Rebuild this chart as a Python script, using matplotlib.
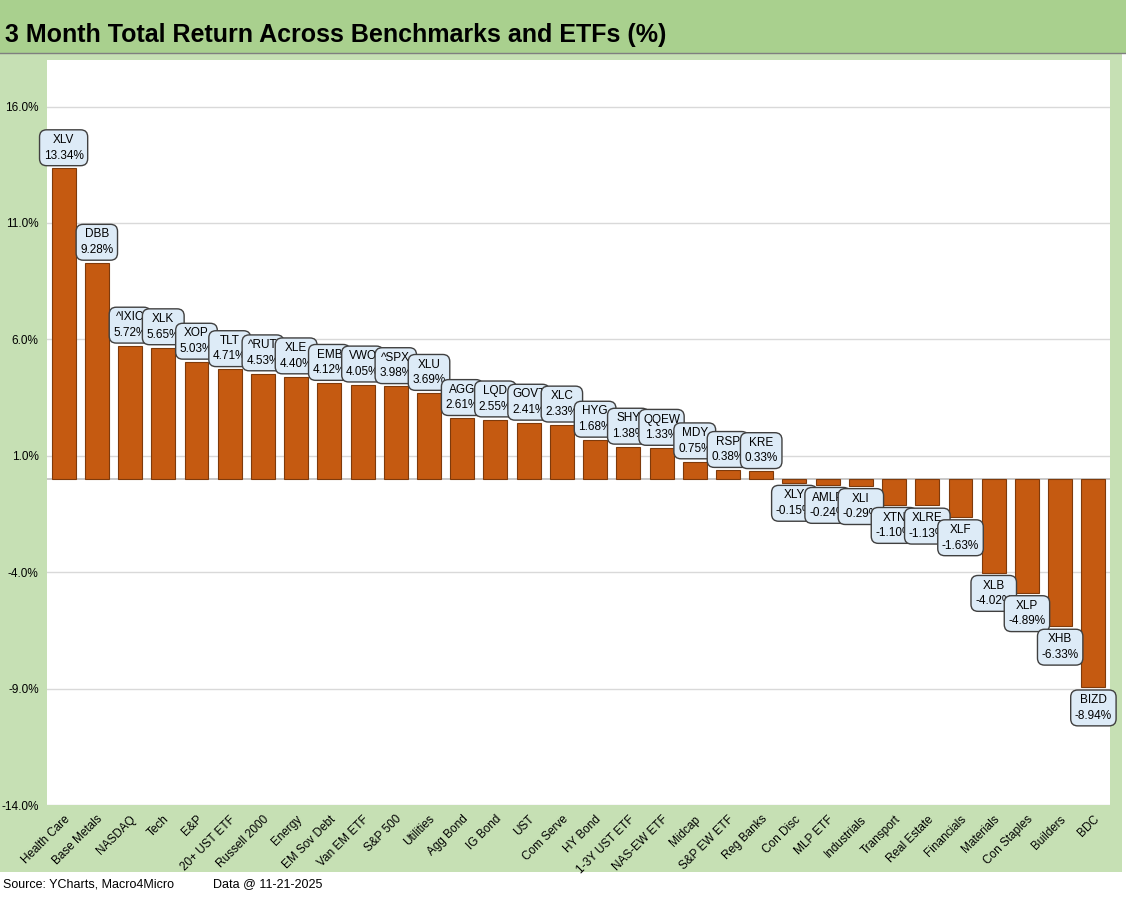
import numpy as np
import matplotlib
matplotlib.use("Agg")
import matplotlib.pyplot as plt
from matplotlib.patches import Rectangle
from matplotlib.ticker import FuncFormatter

plt.rcParams['font.family'] = ['Liberation Sans', 'DejaVu Sans']

# chart data: category, ticker, 3 month total return (%)
categories = ["Health Care", "Base Metals", "NASDAQ", "Tech", "E&P", "20+ UST ETF",
              "Russell 2000", "Energy", "EM Sov Debt", "Van EM ETF", "S&P 500",
              "Utilities", "Agg Bond", "IG Bond", "UST", "Com Serve", "HY Bond",
              "1-3Y UST ETF", "NAS-EW ETF", "Midcap", "S&P EW ETF", "Reg Banks",
              "Con Disc", "MLP ETF", "Industrials", "Transport", "Real Estate",
              "Financials", "Materials", "Con Staples", "Builders", "BDC"]
tickers = ["XLV", "DBB", "^IXIC", "XLK", "XOP", "TLT", "^RUT", "XLE", "EMB", "VWO",
           "^SPX", "XLU", "AGG", "LQD", "GOVT", "XLC", "HYG", "SHY", "QQEW", "MDY",
           "RSP", "KRE", "XLY", "AMLP", "XLI", "XTN", "XLRE", "XLF", "XLB", "XLP",
           "XHB", "BIZD"]
returns = [13.34, 9.28, 5.72, 5.65, 5.03, 4.71, 4.53, 4.40, 4.12, 4.05, 3.98, 3.69,
           2.61, 2.55, 2.41, 2.33, 1.68, 1.38, 1.33, 0.75, 0.38, 0.33, -0.15, -0.24,
           -0.29, -1.10, -1.13, -1.63, -4.02, -4.89, -6.33, -8.94]

W, H = 1126, 897
fig = plt.figure(figsize=(W / 100, H / 100), dpi=100)
fig.patch.set_facecolor("white")

# background bands
fig.patches.append(Rectangle((0, 1 - 872 / H), 1122 / W, (872 - 54) / H,
                             transform=fig.transFigure, facecolor="#c6e0b4",
                             edgecolor="none", zorder=-2))
fig.patches.append(Rectangle((0, 1 - 53 / H), 1, 53 / H, transform=fig.transFigure,
                             facecolor="#a9d08e", edgecolor="none", zorder=-2))
fig.lines.append(plt.Line2D([0, 1], [1 - 53.5 / H, 1 - 53.5 / H],
                            transform=fig.transFigure, color="#7f7f7f", lw=1,
                            zorder=-1))

ax = fig.add_axes([47 / W, 1 - 805 / H, (1110 - 47) / W, (805 - 60) / H])
ax.set_zorder(2)
ax.set_facecolor("white")

x = np.arange(len(categories))
ax.bar(x, returns, width=0.72, color="#c55a11", edgecolor="#7f3a0b", linewidth=0.8,
       zorder=3)
ax.axhline(0, color="#bfbfbf", lw=1.2, zorder=2)

ax.set_xlim(-0.5, len(categories) - 0.5)
ax.set_ylim(-14, 18)
ax.set_yticks(np.arange(-14, 17, 5))
ax.yaxis.set_major_formatter(FuncFormatter(lambda v, p: f"{v:.1f}%"))
ax.grid(axis="y", color="#d9d9d9", lw=1, zorder=1)
ax.set_axisbelow(True)
for s in ax.spines.values():
    s.set_visible(False)
ax.tick_params(axis="both", length=0)
ax.tick_params(axis="y", labelsize=8.5, pad=6)
ax.set_xticks(x)
ax.set_xticklabels(categories, rotation=45, ha="right", rotation_mode="anchor",
                   fontsize=8.5)
ax.tick_params(axis="x", pad=6)

# data labels
for i, (t, v) in enumerate(zip(tickers, returns)):
    off = 5 if v >= 0 else -5
    ax.annotate(f"{t}\n{v:.2f}%", xy=(i, v), xytext=(0, off),
                textcoords="offset points", ha="center",
                va="bottom" if v >= 0 else "top", fontsize=8.5, linespacing=1.4,
                zorder=10 + i, annotation_clip=False,
                bbox=dict(boxstyle="round,pad=0.35,rounding_size=0.6",
                          facecolor="#ddebf7", edgecolor="#404040", lw=1))

fig.text(5 / W, 1 - 35 / H, "3 Month Total Return Across Benchmarks and ETFs (%)",
         fontsize=18, fontweight="bold", va="center", ha="left")
fig.text(3 / W, 1 - 884 / H, "Source: YCharts, Macro4Micro", fontsize=9,
         va="center", ha="left")
fig.text(213 / W, 1 - 884 / H, "Data @ 11-21-2025", fontsize=9, va="center",
         ha="left")

fig.savefig("out.png", dpi=100)
